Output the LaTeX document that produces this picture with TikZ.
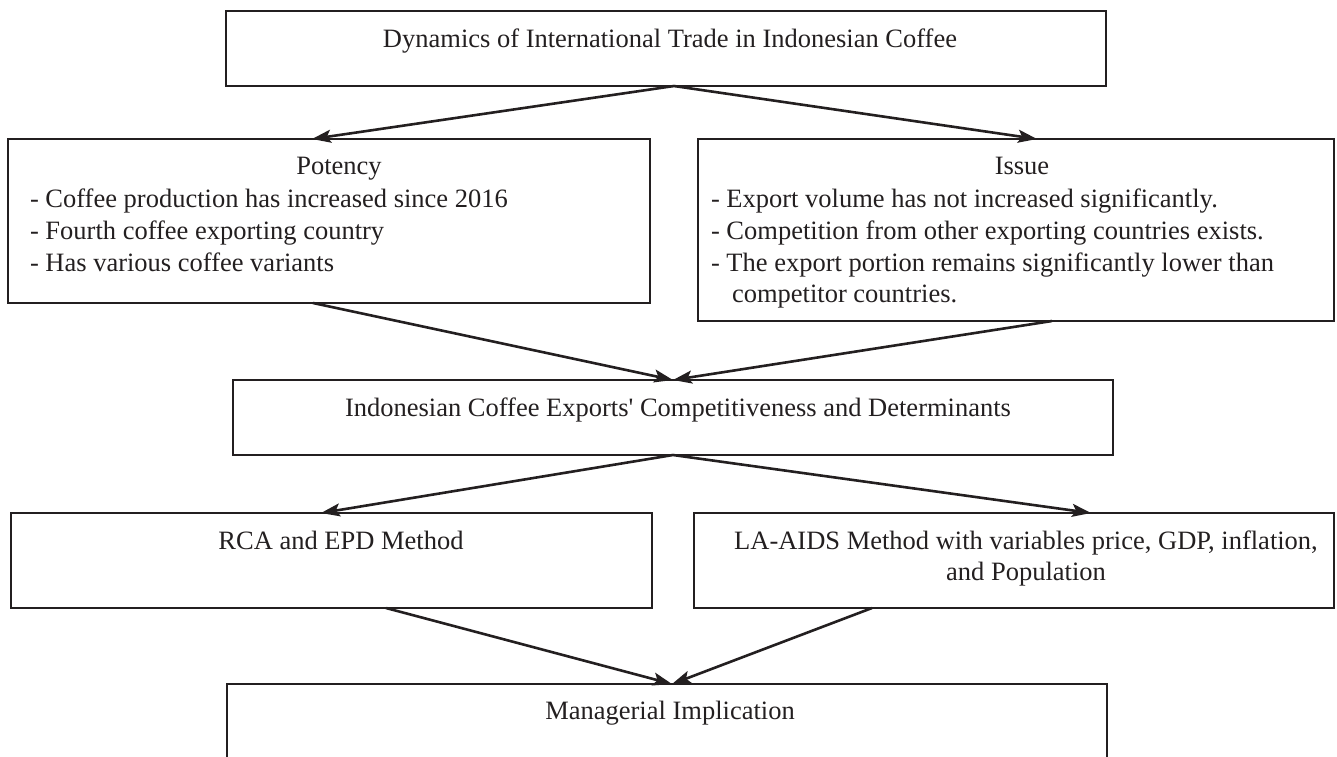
\documentclass[tikz,border=0pt]{standalone}
\usepackage{fontspec}
\setmainfont{Liberation Serif}[Ligatures=TeXOff]
\usetikzlibrary{arrows.meta,calc}
\definecolor{ink}{HTML}{231F20}
\begin{document}
\begin{tikzpicture}[x=1pt,y=-1pt,
  box/.style={draw=ink,line width=2.7pt,rectangle,inner sep=0pt,outer sep=0pt,anchor=north west},
  txt/.style={inner sep=0pt,outer sep=0pt,text=ink,font=\fontsize{26.5}{32}\selectfont},
  conn/.style={draw=ink,line width=2.6pt,-{Stealth[length=19pt,width=13pt,inset=4pt]}}]
\useasboundingbox (0,0) rectangle (1337,756);
\clip (0,0) rectangle (1337,756);
% boxes
\node[box,minimum width=880pt,minimum height=75pt] (top) at (226,11) {};
\node[box,minimum width=642pt,minimum height=164pt] (pot) at (8,139) {};
\node[box,minimum width=636pt,minimum height=182pt] (iss) at (698,139) {};
\node[box,minimum width=880pt,minimum height=75pt] (mid) at (233,380) {};
\node[box,minimum width=641pt,minimum height=95pt] (rca) at (11,513) {};
\node[box,minimum width=640pt,minimum height=95pt] (la) at (694,513) {};
\node[box,minimum width=880pt,minimum height=110pt] (man) at (227,684) {};
% texts
\node[txt,anchor=base] (topT) at (670,47) {Dynamics of International Trade in Indonesian Coffee};
\node[txt,anchor=base] (potT) at (339,174) {Potency};
\node[txt,anchor=base west] (pot1) at (30,207) {- Coffee production has increased since 2016};
\node[txt,anchor=base west] (pot2) at (30,239) {- Fourth coffee exporting country};
\node[txt,anchor=base west] (pot3) at (30,271) {- Has various coffee variants};
\node[txt,anchor=base] (issT) at (1022,174) {Issue};
\node[txt,anchor=base west] (iss1) at (711,207) {- Export volume has not increased significantly.};
\node[txt,anchor=base west] (iss2) at (711,239) {- Competition from other exporting countries exists.};
\node[txt,anchor=base west] (iss3) at (711,271) {- The export portion remains significantly lower than};
\node[txt,anchor=base west] (iss4) at (732,302) {competitor countries.};
\node[txt,anchor=base] (midT) at (678,416) {Indonesian Coffee Exports' Competitiveness and Determinants};
\node[txt,anchor=base] (rcaT) at (341,549) {RCA and EPD Method};
\node[txt,anchor=base] (laT1) at (1026,549) {LA-AIDS Method with variables price, GDP, inflation,};
\node[txt,anchor=base] (laT2) at (1026,580) {and Population};
\node[txt,anchor=base] (manT) at (670,719) {Managerial Implication};
% connectors
\draw[conn] ($(top.south west)+(448,0)$) -- ($(pot.north west)+(304,0)$);
\draw[conn] ($(top.south west)+(448,0)$) -- ($(iss.north west)+(339,0)$);
\draw[conn] ($(pot.south west)+(305,0)$) -- ($(mid.north west)+(440,0)$);
\draw[conn] ($(iss.south west)+(354,0)$) -- ($(mid.north west)+(440,0)$);
\draw[conn] ($(mid.south west)+(440,0)$) -- ($(rca.north west)+(310,0)$);
\draw[conn] ($(mid.south west)+(440,0)$) -- ($(la.north west)+(397,0)$);
\draw[conn] ($(rca.south west)+(375,0)$) -- ($(man.north west)+(445,0)$);
\draw[conn] ($(la.south west)+(178,0)$) -- ($(man.north west)+(445,0)$);
\end{tikzpicture}
\end{document}
